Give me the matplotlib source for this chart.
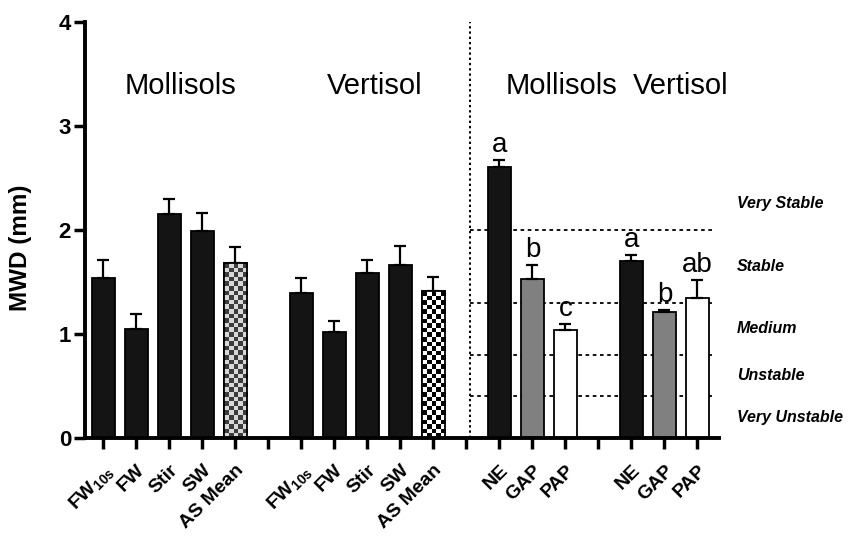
import matplotlib
matplotlib.use("Agg")
import matplotlib.pyplot as plt
import numpy as np

plt.rcParams['font.family'] = ['Liberation Sans', 'DejaVu Sans']
plt.rcParams['mathtext.fontset'] = 'custom'
plt.rcParams['mathtext.bf'] = 'Liberation Sans:bold'
plt.rcParams['mathtext.rm'] = 'Liberation Sans:bold'
plt.rcParams['mathtext.default'] = 'bf'

# Aggregate stability tests (left two groups)
test_labels = ['FW$_{10s}$', 'FW', 'Stir', 'SW', 'AS Mean']
moll_mwd = [1.54, 1.05, 2.15, 1.99, 1.68]
moll_err = [0.17, 0.14, 0.15, 0.17, 0.16]
vert_mwd = [1.39, 1.02, 1.59, 1.66, 1.41]
vert_err = [0.15, 0.11, 0.12, 0.19, 0.14]

# Management systems (right two groups)
sys_labels = ['NE', 'GAP', 'PAP']
sys_colors = ['#141414', '#808080', 'white']
sys_moll_mwd = [2.61, 1.53, 1.04]
sys_moll_err = [0.06, 0.13, 0.06]
sys_moll_letters = ['a', 'b', 'c']
sys_vert_mwd = [1.70, 1.21, 1.35]
sys_vert_err = [0.06, 0.02, 0.17]
sys_vert_letters = ['a', 'b', 'ab']

# Stability classes
class_bounds = [0.4, 0.8, 1.3, 2.0]
class_names = ['Very Unstable', 'Unstable', 'Medium', 'Stable', 'Very Stable']

fig = plt.figure(figsize=(8.48, 5.36), dpi=100)
ax = fig.add_axes([0.1002, 0.1828, 0.7476, 0.776])

w = 0.7
err_kw = dict(ecolor='black', elinewidth=1.6, capsize=4.5, capthick=1.6)


def checker_fill(bar, c1, c2, nx=5):
    # checkerboard fill clipped to the bar (square cells on screen)
    x0 = bar.get_x()
    bw = bar.get_width()
    h = bar.get_height()
    ny = int(round(h / bw * nx * 104 / 33))
    img = (np.add.outer(np.arange(ny), np.arange(nx)) % 2).astype(float)
    cmap = matplotlib.colors.ListedColormap([c1, c2])
    im = ax.imshow(img, extent=[x0, x0 + bw, 0, h], cmap=cmap,
                   interpolation='nearest', aspect='auto', zorder=2.5)
    im.set_clip_path(bar)


x_moll = np.arange(0, 5)
x_vert = np.arange(6, 11)
x_sys_m = np.arange(12, 15)
x_sys_v = np.arange(16, 19)

for xs, vals, errs, checker in [(x_moll, moll_mwd, moll_err, ('#3c3c3c', '#d8d8d8')),
                                (x_vert, vert_mwd, vert_err, ('black', 'white'))]:
    bars = ax.bar(xs, vals, w, color='#141414', edgecolor='black', linewidth=1.3,
                  yerr=[np.zeros(len(errs)), errs], error_kw=err_kw, zorder=2)
    bars[-1].set_facecolor('white')
    checker_fill(bars[-1], *checker)
    # redraw outline on top of the pattern
    b = bars[-1]
    ax.add_patch(plt.Rectangle((b.get_x(), 0), b.get_width(), b.get_height(),
                               fill=False, edgecolor='black', linewidth=1.3, zorder=3))

for xs, vals, errs, letters in [(x_sys_m, sys_moll_mwd, sys_moll_err, sys_moll_letters),
                                (x_sys_v, sys_vert_mwd, sys_vert_err, sys_vert_letters)]:
    ax.bar(xs, vals, w, color=sys_colors, edgecolor='black', linewidth=1.3,
           yerr=[np.zeros(len(errs)), errs], error_kw=err_kw, zorder=2)
    for x, v, e, t in zip(xs, vals, errs, letters):
        ax.text(x, v + e + 0.02, t, ha='center', va='bottom', fontsize=20)

# separators and class lines
ax.axvline(11.1, color='black', linestyle=(0, (1.2, 1.5)), linewidth=1.4, zorder=1)
for b in class_bounds:
    ax.plot([11.1, 18.48], [b, b], color='black', linestyle=(0, (2, 2)),
            linewidth=1.3, zorder=1)

edges = [0] + class_bounds + [2.52]
for name, lo, hi in zip(class_names, edges[:-1], edges[1:]):
    ax.text(19.2, (lo + hi) / 2, name, ha='left', va='center', fontsize=11.5,
            fontweight='bold', fontstyle='italic', clip_on=False)

# group titles
ax.text(2.35, 3.39, 'Mollisols', ha='center', va='center', fontsize=21)
ax.text(8.23, 3.39, 'Vertisol', ha='center', va='center', fontsize=21)
ax.text(13.87, 3.39, 'Mollisols', ha='center', va='center', fontsize=21)
ax.text(17.5, 3.39, 'Vertisol', ha='center', va='center', fontsize=21)

ticklabels = test_labels + [''] + test_labels + [''] + sys_labels + [''] + sys_labels
ax.set_xticks(np.arange(19))
ax.set_xticklabels(ticklabels, rotation=45, ha='right', rotation_mode='anchor',
                   fontsize=14, fontweight='bold')
ax.set_xlim(-0.555, 18.65)
ax.set_ylim(0, 4)
ax.set_yticks([0, 1, 2, 3, 4])
ax.set_yticklabels(['0', '1', '2', '3', '4'], fontsize=16, fontweight='bold')
ax.set_ylabel('MWD (mm)', fontsize=17.5, fontweight='bold')
ax.yaxis.set_label_coords(-0.084, 0.457)

for s in ['top', 'right']:
    ax.spines[s].set_visible(False)
for s in ['left', 'bottom']:
    ax.spines[s].set_linewidth(2.8)
ax.tick_params(axis='both', direction='out', length=8, width=2.5)
ax.tick_params(axis='x', pad=9)
ax.tick_params(axis='y', pad=2)

fig.savefig('out.png', dpi=100)
